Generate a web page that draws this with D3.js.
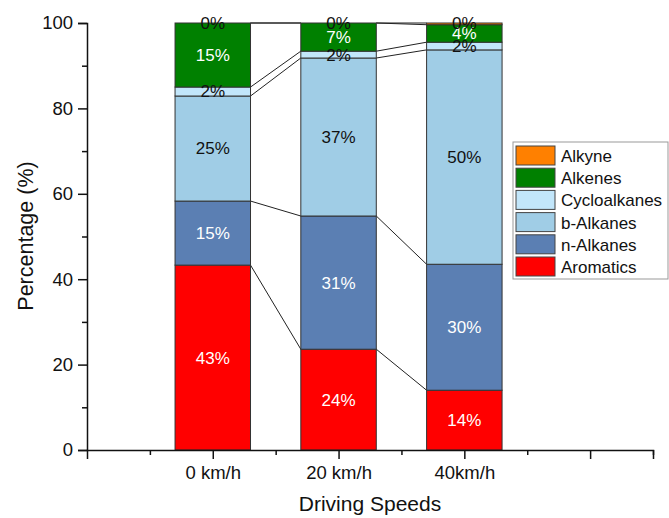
<!DOCTYPE html>
<html>
<head>
<meta charset="utf-8">
<script src="https://cdn.jsdelivr.net/npm/d3@7"></script>
<style>
  body { margin: 0; background: #fff; }
  svg { display: block; font-family: "Liberation Sans", Arial, sans-serif; }
</style>
</head>
<body>
<svg id="chart" width="669" height="518"></svg>
<script>
// Chart data.
const categories = ['0 km/h', '20 km/h', '40km/h'];
const seriesNames = ['Aromatics', 'n-Alkanes', 'b-Alkanes', 'Cycloalkanes', 'Alkenes', 'Alkyne'];
const aromatics = [43.3, 23.6, 14.0];
const nAlkanes = [15.0, 31.2, 29.5];
const bAlkanes = [24.6, 37.0, 50.2];
const cycloalkanes = [2.1, 1.6, 1.8];
const alkenes = [15.0, 6.6, 4.1];
const alkyne = [0, 0, 0.4];
const yTicks = [0, 20, 40, 60, 80, 100];

const seriesValues = [aromatics, nAlkanes, bAlkanes, cycloalkanes, alkenes, alkyne];
const colors = ['#ff0000', '#5b7fb3', '#a0cde6', '#c2e6fa', '#008000', '#ff8000'];
const labelColors = ['#fff', '#fff', '#111', '#111', '#fff', '#111'];

const svg = d3.select('#chart');

// Scales: category i sits at x = i + 1, with one empty slot after the last.
const xScale = d3.scaleLinear().domain([0, 4.5]).range([87, 653]);
const yScale = d3.scaleLinear().domain([0, 100]).range([450, 23]);
const barW = xScale(0.6) - xScale(0);

// Stack the series per category.
const rows = categories.map((c, i) => {
  const r = { cat: c, idx: i };
  seriesNames.forEach((s, k) => { r[s] = seriesValues[k][i]; });
  return r;
});
const stacked = d3.stack().keys(seriesNames)(rows);

// Connector lines between neighbouring bars at each stack boundary.
const conn = svg.append('g');
stacked.forEach(layer => {
  for (let i = 0; i < categories.length - 1; i++) {
    conn.append('line')
      .attr('x1', xScale(i + 1) + barW / 2)
      .attr('y1', yScale(layer[i][1]))
      .attr('x2', xScale(i + 2) - barW / 2)
      .attr('y2', yScale(layer[i + 1][1]))
      .attr('stroke', '#222')
      .attr('stroke-width', 1);
  }
});

// Bars.
stacked.forEach((layer, k) => {
  svg.append('g').selectAll('rect')
    .data(layer)
    .join('rect')
    .attr('x', (d, i) => xScale(i + 1) - barW / 2)
    .attr('y', d => yScale(d[1]))
    .attr('width', barW)
    .attr('height', d => yScale(d[0]) - yScale(d[1]))
    .attr('fill', colors[k])
    .attr('stroke', '#333')
    .attr('stroke-width', 1);
});

// Value labels.
stacked.forEach((layer, k) => {
  svg.append('g').selectAll('text')
    .data(layer)
    .join('text')
    .attr('x', (d, i) => xScale(i + 1))
    .attr('y', d => k === 5 ? yScale(d[1]) : yScale((d[0] + d[1]) / 2))
    .attr('dy', '0.35em')
    .attr('text-anchor', 'middle')
    .attr('font-size', 17)
    .attr('fill', labelColors[k])
    .text(d => Math.round(d[1] - d[0]) + '%');
});

// Y axis.
svg.append('g')
  .attr('transform', `translate(${xScale(0)},0)`)
  .call(d3.axisLeft(yScale).tickValues(yTicks).tickSize(9).tickPadding(5));
svg.append('g')
  .attr('transform', `translate(${xScale(0)},0)`)
  .call(d3.axisLeft(yScale).tickValues([10, 30, 50, 70, 90]).tickSize(5).tickFormat(''))
  .call(g => g.select('.domain').remove());

// X axis.
svg.append('g')
  .attr('transform', `translate(0,${yScale(0)})`)
  .call(d3.axisBottom(xScale).tickValues([1, 2, 3, 4]).tickSize(9).tickPadding(7)
    .tickFormat(d => categories[d - 1] || ''));
svg.append('g')
  .attr('transform', `translate(0,${yScale(0)})`)
  .call(d3.axisBottom(xScale).tickValues([0.5, 1.5, 2.5, 3.5, 4.5]).tickSize(5).tickFormat(''))
  .call(g => g.select('.domain').remove());

svg.selectAll('.domain, .tick line').attr('stroke', '#111').attr('stroke-width', 1.5);
svg.selectAll('.tick text').attr('font-size', 18.5).attr('fill', '#111')
  .attr('font-family', '"Liberation Sans", Arial, sans-serif');

// Axis titles.
svg.append('text')
  .attr('transform', 'translate(25,236) rotate(-90)')
  .attr('text-anchor', 'middle')
  .attr('dy', '0.35em')
  .attr('font-size', 21.5)
  .attr('fill', '#111')
  .text('Percentage (%)');
svg.append('text')
  .attr('x', (xScale.range()[0] + xScale.range()[1]) / 2)
  .attr('y', 504)
  .attr('dy', '0.35em')
  .attr('text-anchor', 'middle')
  .attr('font-size', 21)
  .attr('fill', '#111')
  .text('Driving Speeds');

// Legend, top entry is Alkyne.
const legend = svg.append('g').attr('transform', 'translate(513,142)');
legend.append('rect')
  .attr('width', 155).attr('height', 137)
  .attr('fill', '#fff').attr('stroke', '#999').attr('stroke-width', 1);
const legendOrder = seriesNames.slice().reverse();
legendOrder.forEach((name, j) => {
  const k = seriesNames.indexOf(name);
  const g = legend.append('g').attr('transform', `translate(3,${4 + j * 22.2})`);
  g.append('rect')
    .attr('width', 39).attr('height', 19)
    .attr('fill', colors[k]).attr('stroke', '#444').attr('stroke-width', 1);
  g.append('text')
    .attr('x', 45).attr('y', 10).attr('dy', '0.35em')
    .attr('font-size', 17).attr('fill', '#111')
    .text(name);
});
</script>
</body>
</html>
